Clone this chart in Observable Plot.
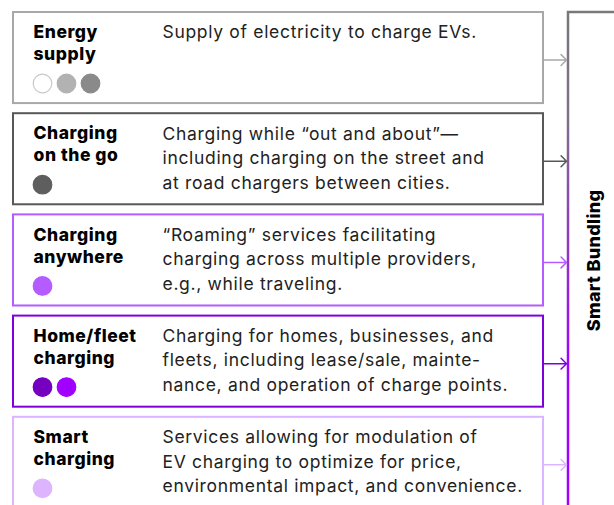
<!DOCTYPE html>
<html><head><meta charset="utf-8">
<script src="https://cdn.jsdelivr.net/npm/d3@7"></script>
<script src="https://cdn.jsdelivr.net/npm/@observablehq/plot@0.6"></script>
<style>
html,body{margin:0;padding:0;background:#fff;overflow:hidden;}
</style></head><body><div id="chart"></div>
<script>
// ---- data ----
const categories = ["Energy\nsupply", "Charging\non the go", "Charging\nanywhere", "Home/fleet\ncharging", "Smart\ncharging"];
const descriptions = [
  "Supply of electricity to charge EVs.",
  "Charging while \u201cout and about\u201d\u2014\nincluding charging on the street and\nat road chargers between cities.",
  "\u201cRoaming\u201d services facilitating\ncharging across multiple providers,\ne.g., while traveling.",
  "Charging for homes, businesses, and\nfleets, including lease/sale, mainte-\nnance, and operation of charge points.",
  "Services allowing for modulation of\nEV charging to optimize for price,\nenvironmental impact, and convenience."
];
const borderColors = ["#a8a8a8", "#585858", "#b45cff", "#8000dc", "#dcb4ff"];
const dotColors = [["#ffffff", "#b2b2b2", "#8a8a8a"], ["#5e5e5e"], ["#b45cff"], ["#7500c0", "#a100ff"], ["#dcb4ff"]];
const bundleLabel = "Smart Bundling";

// ---- derived tables ----
const rows = categories.map((title, i) => ({i, title, desc: descriptions[i], color: borderColors[i]}));
const dots = dotColors.flatMap((cs, i) => cs.map((c, j) => ({i, j, fill: c, stroke: c === "#ffffff" ? "#c8c8c8" : c})));

const bundleBox = (index, scales) => {
  const x0 = scales.x(568), y0 = scales.y(0), y1 = scales.y(5);
  const g = d3.create("svg:g");
  const grad = g.append("defs").append("linearGradient")
    .attr("id", "bundleGrad").attr("gradientUnits", "userSpaceOnUse")
    .attr("x1", 0).attr("x2", 0).attr("y1", y0).attr("y2", 505);
  [[0, "#787878"], [0.22, "#7e7088"], [0.72, "#a100ff"], [1, "#a100ff"]].forEach(([o, c]) =>
    grad.append("stop").attr("offset", o).attr("stop-color", c));
  g.append("rect").attr("x", x0).attr("y", y0).attr("width", 80).attr("height", y1 - y0 + 20)
    .attr("fill", "white").attr("stroke", "url(#bundleGrad)").attr("stroke-width", 2.5);
  return g.node();
};

const chart = Plot.plot({
  width: 614, height: 505, margin: 0,
  style: {fontFamily: "Inter, sans-serif", background: "white"},
  x: {domain: [0, 614], range: [0, 614], axis: null},
  y: {domain: [0, 5], range: [12, 518], axis: null},
  color: {type: "identity"},
  marks: [
    bundleBox,
    Plot.text([bundleLabel], {x: 594, y: 2.45, text: d => d, rotate: -90, fontSize: 18, fontWeight: 800, fill: "#000"}),
    Plot.rect(rows, {x1: 13, x2: 543, y1: "i", y2: d => d.i + 0.9, fill: "white", stroke: "color", strokeWidth: 2}),
    Plot.arrow(rows, {x1: 543, x2: 566, y1: d => d.i + 0.47, y2: d => d.i + 0.47, stroke: "color", strokeWidth: 1.5, headLength: 10, headAngle: 90}),
    Plot.text(rows, {x: 33, y: "i", text: "title", textAnchor: "start", lineAnchor: "top", dy: 10, fontSize: 17.5, fontWeight: 800, lineHeight: 1.26, fill: "#000"}),
    Plot.text(rows, {x: 162, y: "i", text: "desc", textAnchor: "start", lineAnchor: "top", dy: 8.5, fontSize: 17.5, lineHeight: 1.4, fill: "#222"}),
    Plot.dot(dots, {x: d => 42 + 24 * d.j, y: "i", dy: 71, r: 9.3, fill: "fill", stroke: "stroke", strokeWidth: 1.2})
  ]
});
const textGroups = chart.querySelectorAll('g[aria-label="text"]');
textGroups[0].style.letterSpacing = "0.3px";
textGroups[1].style.letterSpacing = "0.55px";
textGroups[2].style.letterSpacing = "0.68px";
document.getElementById("chart").append(chart);
</script>
</body></html>
